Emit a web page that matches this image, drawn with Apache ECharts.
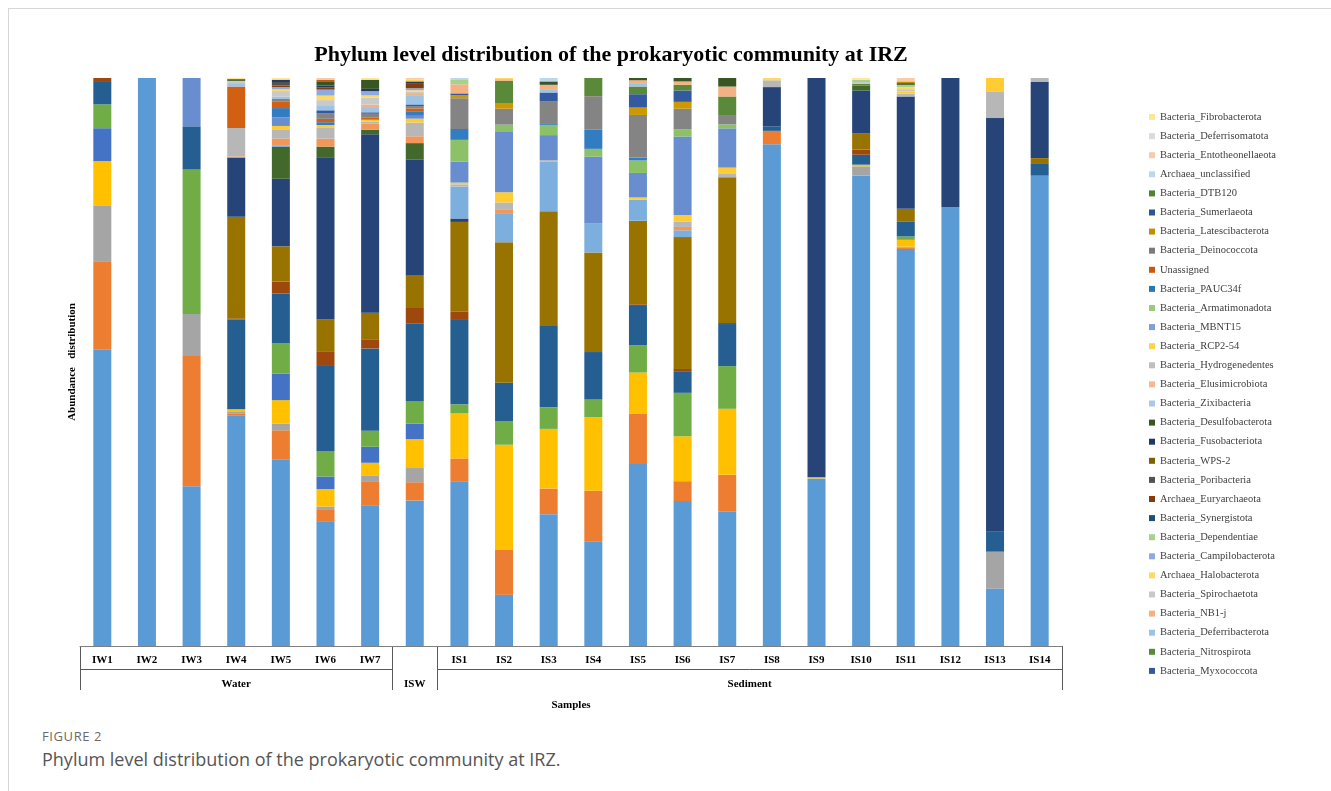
<!DOCTYPE html>
<html>
<head>
<meta charset="utf-8">
<title>Phylum level distribution</title>
<script src="https://cdn.jsdelivr.net/npm/echarts@6/dist/echarts.min.js"></script>
<style>
  html, body { margin: 0; padding: 0; background: #fff; }
  body { width: 1331px; height: 791px; position: relative; overflow: hidden; }
  .frame { position: absolute; left: 8px; top: 8px; right: 0; bottom: 0; border-top: 1px solid #d6d6d6; border-left: 1px solid #d6d6d6; }
  #chart { position: absolute; left: 0; top: 0; width: 1331px; height: 720px; }
  .fig-no { position: absolute; left: 42px; top: 727px; font: 13px 'Open Sans', sans-serif; color: #6a6a6a; letter-spacing: 0.6px; }
  .fig-cap { position: absolute; left: 42px; top: 747px; font: 18px 'Open Sans', sans-serif; color: #555; }
</style>
</head>
<body>
<div class="frame"></div>
<div id="chart"></div>
<div class="fig-no">FIGURE 2</div>
<div class="fig-cap">Phylum level distribution of the prokaryotic community at IRZ.</div>
<script>
  const samples = ['IW1', 'IW2', 'IW3', 'IW4', 'IW5', 'IW6', 'IW7', 'ISW', 'IS1', 'IS2', 'IS3', 'IS4', 'IS5', 'IS6', 'IS7', 'IS8', 'IS9', 'IS10', 'IS11', 'IS12', 'IS13', 'IS14'];

  // sample groups under the axis (first / last sample index)
  const groupLabels = ['Water', 'ISW', 'Sediment'];
  const groupFirst = [0, 7, 8];
  const groupLast = [6, 7, 21];

  // relative abundance (%), order as samples
  //                   IW1   IW2  IW3   IW4   IW5   IW6   IW7   ISW   IS1   IS2   IS3   IS4   IS5   IS6   IS7   IS8   IS9   IS10  IS11  IS12  IS13  IS14
  const proteobacteria = [52.2, 100, 28.1, 40.6, 32.9, 21.9, 24.6, 25.6, 28.8, 9.0, 23.2, 18.4, 32.0, 25.5, 23.6, 88.3, 29.5, 82.8, 69.8, 77.2, 10.1, 82.8];
  const bacteroidota = [15.6, 0, 22.9, 0.35, 5.1, 2.1, 4.1, 3.2, 4.1, 7.9, 4.5, 8.9, 8.9, 3.5, 6.5, 2.35, 0, 0, 0.2, 0, 0, 0];
  const firmicutes = [9.75, 0, 7.4, 0.35, 1.2, 0.6, 1.05, 2.5, 0, 0, 0, 0, 0, 0, 0, 0, 0, 1.6, 0.2, 0, 6.5, 0];
  const actinobacteriota = [7.9, 0, 0, 0.35, 4.1, 3.1, 2.3, 5.1, 7.9, 18.5, 10.5, 12.9, 7.2, 7.9, 11.6, 0, 0.2, 0.3, 1.2, 0, 0, 0];
  const cyanobacteria = [5.8, 0, 0, 0, 4.7, 2.2, 2.8, 2.7, 0, 0, 0, 0, 0, 0, 0, 0, 0, 0, 0, 0, 0, 0];
  const chloroflexi = [4.2, 0, 25.4, 0, 5.3, 4.5, 2.8, 3.9, 1.6, 4.1, 3.8, 3.1, 4.8, 7.65, 7.5, 0, 0, 0, 0.6, 0, 0, 0];
  const acidobacteriota = [3.95, 0, 7.6, 15.8, 8.8, 15.0, 14.4, 13.7, 14.8, 6.8, 14.3, 8.35, 6.9, 3.8, 7.4, 0.8, 0, 1.75, 2.65, 0, 3.5, 2.2];
  const verrucomicrobiota = [0.7, 0, 0, 0.2, 2.1, 2.6, 1.6, 2.75, 1.5, 0, 0, 0, 0.3, 0.4, 0.2, 0, 0, 0.9, 0, 0, 0, 0];
  const planctomycetota = [0, 0, 0, 17.9, 6.2, 5.6, 4.65, 5.8, 15.7, 24.7, 20.2, 17.5, 14.7, 23.2, 25.6, 0, 0, 2.9, 2.2, 0, 0, 0.9];
  const patescibacteria = [0, 0, 0, 10.4, 11.9, 28.6, 31.2, 20.3, 0.6, 0, 0, 0, 0, 0, 0, 6.9, 70.3, 7.5, 19.75, 22.75, 72.8, 13.4];
  const bdellovibrionota = [0, 0, 0, 0, 5.6, 1.9, 0.8, 2.9, 0, 0, 0, 0, 0, 0, 0, 0, 0, 0.9, 0, 0, 0, 0];
  const gemmatimonadota = [0, 0, 0, 0, 0.2, 0, 0, 0, 5.6, 5.0, 8.7, 5.1, 3.7, 1.2, 0, 0, 0, 0, 0, 0, 0, 0];
  const thermoplasmatota = [0, 0, 0, 0.2, 1.3, 1.4, 1.05, 1.2, 0, 0.7, 0, 0, 0, 0.6, 0, 0, 0, 0, 0, 0, 0, 0];
  const nanoarchaeota = [0, 0, 0, 5.0, 1.5, 2.0, 0.4, 2.4, 0.4, 1.3, 0.3, 0, 0, 0.9, 0.7, 1.2, 0, 0, 0.5, 0, 4.7, 0.7];
  const dadabacteria = [0, 0, 0, 0, 0.7, 0.4, 0.3, 0.7, 0.3, 1.8, 0, 0, 0.4, 1.2, 1.0, 0, 0, 0, 0.4, 0, 2.35, 0];
  const crenarchaeota = [0, 0, 8.5, 0, 1.5, 0, 0, 0.5, 3.7, 10.6, 4.4, 11.75, 4.3, 13.8, 6.9, 0, 0, 0, 0, 0, 0, 0];
  const marinimicrobia = [0, 0, 0, 0, 0, 0, 0, 0, 3.8, 1.3, 1.8, 1.35, 2.2, 1.3, 0.7, 0, 0, 0, 0, 0, 0, 0];
  const sar324 = [0, 0, 0, 0, 1.65, 0.5, 0, 0.7, 1.9, 0, 0.3, 3.35, 0.5, 0, 0, 0, 0, 0, 0, 0, 0, 0];
  const nitrospinota = [0, 0, 0, 7.3, 1.2, 0.6, 0.35, 0.6, 0, 0, 0, 0, 0, 0, 0, 0, 0, 0, 0, 0, 0, 0];
  const calditrichota = [0, 0, 0, 0, 0.4, 1.0, 0.7, 0.4, 5.4, 2.8, 3.8, 5.9, 7.5, 3.6, 1.5, 0, 0, 0, 0, 0, 0, 0];
  const sva0485 = [0, 0, 0, 0, 0, 0, 0, 0, 0.5, 1.0, 0, 0, 1.3, 1.2, 0, 0, 0, 0, 0, 0, 0, 0];
  const myxococcota = [0, 0, 0, 0, 0, 0.5, 0.25, 0.3, 0.35, 0, 1.6, 0, 2.35, 2.0, 0, 0, 0, 0, 0, 0, 0, 0];
  const nitrospirota = [0, 0, 0, 0, 0, 0, 0, 0, 0, 3.9, 0, 3.2, 1.35, 1.0, 3.4, 0, 0, 0.3, 0, 0, 0, 0];
  const deferribacterota = [0, 0, 0, 0.6, 0.4, 0.9, 0.75, 1.5, 0, 0, 0.45, 0, 0.6, 0, 0, 0, 0, 0, 0, 0, 0, 0];
  const nb1j = [0, 0, 0, 0, 0, 0, 0.6, 0.5, 1.6, 0.3, 0.9, 0, 0.5, 0.6, 1.75, 0, 0, 0, 0, 0, 0, 0];
  const spirochaetota = [0, 0, 0, 0.4, 1.0, 0.9, 1.2, 0.3, 0, 0, 0, 0, 0, 0, 0, 0, 0, 0.3, 0.4, 0, 0, 0];
  const halobacterota = [0, 0, 0, 0, 0.3, 0.8, 0.4, 0.2, 0, 0.2, 0, 0, 0, 0, 0, 0.4, 0, 0, 0.35, 0, 0, 0];
  const campilobacterota = [0, 0, 0, 0, 0.4, 1.05, 0.75, 0.35, 0, 0, 0, 0, 0, 0, 0, 0, 0, 0, 0, 0, 0, 0];
  const dependentiae = [0, 0, 0, 0, 0, 0, 0, 0, 0.75, 0, 0, 0, 0, 0, 0, 0, 0, 0.4, 0.4, 0, 0, 0];
  const euryarchaeota = [0, 0, 0, 0, 0.3, 0.4, 0, 0.9, 0, 0, 0, 0, 0, 0, 0, 0, 0, 0, 0, 0, 0, 0];
  const poribacteria = [0, 0, 0, 0, 0.6, 0, 0, 0, 0, 0, 0, 0, 0, 0, 0, 0, 0, 0, 0, 0, 0, 0];
  const fusobacteriota = [0, 0, 0, 0, 0.4, 0.3, 0.4, 0.3, 0, 0, 0, 0, 0, 0, 0, 0, 0, 0, 0, 0, 0, 0];
  const desulfobacterota = [0, 0, 0, 0.3, 0, 0.65, 1.6, 0, 0, 0, 0.6, 0, 0.4, 0.6, 1.5, 0, 0, 0, 0.3, 0, 0, 0];
  const rcp254 = [0, 0, 0, 0, 0, 0, 0, 0.3, 0, 0, 0, 0, 0, 0, 0, 0, 0, 0, 0, 0, 0, 0];
  const unassigned = [0, 0, 0, 0, 0, 0.4, 0, 0, 0, 0, 0, 0, 0, 0, 0, 0, 0, 0, 0, 0, 0, 0];
  const latescibacterota = [0, 0, 0, 0, 0, 0, 0, 0, 0, 0, 0, 0, 0, 0, 0, 0, 0, 0, 0.3, 0, 0, 0];
  const archaeaUnclassified = [0, 0, 0, 0, 0, 0, 0, 0, 0.35, 0, 0.6, 0, 0, 0, 0, 0, 0, 0, 0, 0, 0, 0];
  const entotheonellaeota = [0, 0, 0, 0, 0, 0.3, 0, 0.3, 0, 0, 0, 0, 0, 0, 0, 0, 0, 0, 0.6, 0, 0, 0];
  const fibrobacterota = [0, 0, 0, 0.2, 0.3, 0, 0.3, 0, 0, 0, 0, 0, 0, 0, 0, 0, 0, 0.3, 0, 0, 0, 0];
  // traces too small to see in any bar
  const trace = [0, 0, 0, 0, 0, 0, 0, 0, 0, 0, 0, 0, 0, 0, 0, 0, 0, 0, 0, 0, 0, 0];

  // stack order, bottom -> top
  const phyla = [
    'Bacteria_Proteobacteria', 'Bacteria_Bacteroidota', 'Bacteria_Firmicutes', 'Bacteria_Actinobacteriota',
    'Bacteria_Cyanobacteria', 'Bacteria_Chloroflexi', 'Bacteria_Acidobacteriota', 'Bacteria_Verrucomicrobiota',
    'Bacteria_Planctomycetota', 'Bacteria_Patescibacteria', 'Bacteria_Bdellovibrionota', 'Bacteria_Gemmatimonadota',
    'Archaea_Thermoplasmatota', 'Archaea_Nanoarchaeota', 'Bacteria_Dadabacteria', 'Archaea_Crenarchaeota',
    'Bacteria_Marinimicrobia', 'Bacteria_SAR324_clade', 'Bacteria_Nitrospinota', 'Bacteria_Calditrichota',
    'Bacteria_Sva0485', 'Bacteria_Myxococcota', 'Bacteria_Nitrospirota', 'Bacteria_Deferribacterota',
    'Bacteria_NB1-j', 'Bacteria_Spirochaetota', 'Archaea_Halobacterota', 'Bacteria_Campilobacterota',
    'Bacteria_Dependentiae', 'Bacteria_Synergistota', 'Archaea_Euryarchaeota', 'Bacteria_Poribacteria',
    'Bacteria_WPS-2', 'Bacteria_Fusobacteriota', 'Bacteria_Desulfobacterota', 'Bacteria_Zixibacteria',
    'Bacteria_Elusimicrobiota', 'Bacteria_Hydrogenedentes', 'Bacteria_RCP2-54', 'Bacteria_MBNT15',
    'Bacteria_Armatimonadota', 'Bacteria_PAUC34f', 'Unassigned', 'Bacteria_Deinococcota',
    'Bacteria_Latescibacterota', 'Bacteria_Sumerlaeota', 'Bacteria_DTB120', 'Archaea_unclassified',
    'Bacteria_Entotheonellaeota', 'Bacteria_Deferrisomatota', 'Bacteria_Fibrobacterota'
  ];
  const rows = [
    proteobacteria, bacteroidota, firmicutes, actinobacteriota,
    cyanobacteria, chloroflexi, acidobacteriota, verrucomicrobiota,
    planctomycetota, patescibacteria, bdellovibrionota, gemmatimonadota,
    thermoplasmatota, nanoarchaeota, dadabacteria, crenarchaeota,
    marinimicrobia, sar324, nitrospinota, calditrichota,
    sva0485, myxococcota, nitrospirota, deferribacterota,
    nb1j, spirochaetota, halobacterota, campilobacterota,
    dependentiae, trace, euryarchaeota, poribacteria,
    trace, fusobacteriota, desulfobacterota, trace,
    trace, trace, rcp254, trace,
    trace, trace, unassigned, trace,
    latescibacterota, trace, trace, archaeaUnclassified,
    entotheonellaeota, trace, fibrobacterota
  ];
  const barColors = [
    '#5B9BD5', '#ED7D31', '#A5A5A5', '#FFC000', '#4472C4', '#70AD47', '#255E91', '#9E480E',
    '#997300', '#264478', '#43682B', '#7CAFDD', '#F1975A', '#B7B7B7', '#FFCD33', '#698ED0',
    '#8CC168', '#327DC2', '#D26012', '#848484', '#CC9A00', '#335AA1', '#5A8A39', '#9DC3E6',
    '#F4B183', '#C9C9C9', '#FFD966', '#8FAADC', '#A9D18E', '#1F4E79', '#843C0C', '#525252',
    '#7F6000', '#203864', '#375623', '#A9C8EA', '#F6B893', '#BFBFBF', '#FFD24D', '#7F9FD8',
    '#9ACB7B', '#2E75B6', '#C55A11', '#7B7B7B', '#BF9000', '#2F5597', '#548235', '#BDD7EE',
    '#F8CBAD', '#DBDBDB', '#FFE699'
  ];

  // only the part of the legend that is visible in the figure (top -> bottom)
  const legendNames = [
    'Bacteria_Fibrobacterota', 'Bacteria_Deferrisomatota', 'Bacteria_Entotheonellaeota', 'Archaea_unclassified',
    'Bacteria_DTB120', 'Bacteria_Sumerlaeota', 'Bacteria_Latescibacterota', 'Bacteria_Deinococcota',
    'Unassigned', 'Bacteria_PAUC34f', 'Bacteria_Armatimonadota', 'Bacteria_MBNT15', 'Bacteria_RCP2-54',
    'Bacteria_Hydrogenedentes', 'Bacteria_Elusimicrobiota', 'Bacteria_Zixibacteria', 'Bacteria_Desulfobacterota',
    'Bacteria_Fusobacteriota', 'Bacteria_WPS-2', 'Bacteria_Poribacteria', 'Archaea_Euryarchaeota',
    'Bacteria_Synergistota', 'Bacteria_Dependentiae', 'Bacteria_Campilobacterota', 'Archaea_Halobacterota',
    'Bacteria_Spirochaetota', 'Bacteria_NB1-j', 'Bacteria_Deferribacterota', 'Bacteria_Nitrospirota',
    'Bacteria_Myxococcota'
  ];

  const serif = "'Liberation Serif', 'Times New Roman', serif";

  // 100% stacked: scale each sample to its total
  const totals = samples.map((s, j) => rows.reduce((sum, r) => sum + r[j], 0));
  const series = phyla.map((name, i) => ({
    name: name,
    type: 'bar',
    stack: 'total',
    barWidth: 18,
    itemStyle: { color: barColors[i] },
    data: rows[i].map((v, j) => v / totals[j] * 100)
  }));

  const chart = echarts.init(document.getElementById('chart'));
  chart.setOption({
    animation: false,
    title: {
      text: 'Phylum level distribution of the prokaryotic community at IRZ',
      left: 606,
      top: 39,
      textAlign: 'center',
      textStyle: { fontFamily: serif, fontWeight: 'bold', fontSize: 22, color: '#000' }
    },
    legend: {
      orient: 'vertical',
      left: 1144,
      top: 106,
      icon: 'rect',
      itemWidth: 6,
      itemHeight: 6,
      itemGap: 7.1,
      selectedMode: false,
      data: legendNames,
      textStyle: { fontFamily: serif, fontSize: 10.5, color: '#404040', lineHeight: 12 }
    },
    grid: { left: 80, right: 269, top: 78, bottom: 74 },
    xAxis: {
      type: 'category',
      data: samples,
      axisLine: { lineStyle: { color: '#7f7f7f' } },
      axisTick: { show: false },
      axisLabel: {
        fontFamily: serif, fontWeight: 'bold', fontSize: 11, color: '#000', margin: 9,
        // ISW is written only on the group row
        formatter: v => (v === 'ISW' ? '' : v)
      },
      name: 'Samples',
      nameLocation: 'middle',
      nameGap: 54,
      nameTextStyle: { fontFamily: serif, fontWeight: 'bold', fontSize: 11, color: '#000' }
    },
    yAxis: {
      type: 'value',
      min: 0,
      max: 100,
      axisLine: { show: false },
      axisTick: { show: false },
      axisLabel: { show: false },
      splitLine: { show: false },
      name: 'Abundance   distribution',
      nameLocation: 'middle',
      nameGap: 2,
      nameTextStyle: { fontFamily: serif, fontWeight: 'bold', fontSize: 11, color: '#000' }
    },
    series: series
  });

  // two-level category labels (Water / ISW / Sediment) under the axis
  function drawGroups() {
    const px = i => chart.convertToPixel({ xAxisIndex: 0 }, samples[i]);
    const band = px(1) - px(0);
    const edge = i => px(i) - band / 2;
    const axisY = chart.convertToPixel({ yAxisIndex: 0 }, 0);
    const lineY = axisY + 23;
    const labelY = axisY + 38;
    const endY = axisY + 44;
    const lineStyle = { stroke: '#595959', lineWidth: 1 };
    const elements = [];
    const cuts = [edge(0), edge(7), edge(8), edge(21) + band];
    cuts.forEach(x => {
      x = Math.round(x) + 0.5;
      elements.push({ type: 'line', shape: { x1: x, y1: axisY, x2: x, y2: endY }, style: lineStyle });
    });
    groupLabels.forEach((label, g) => {
      const x1 = edge(groupFirst[g]);
      const x2 = edge(groupLast[g]) + band;
      if (groupFirst[g] !== groupLast[g]) {
        elements.push({ type: 'line', shape: { x1: x1, y1: lineY + 0.5, x2: x2, y2: lineY + 0.5 }, style: lineStyle });
      }
      elements.push({
        type: 'text',
        style: {
          text: label, x: (x1 + x2) / 2, y: labelY,
          align: 'center', verticalAlign: 'middle',
          font: "bold 11px 'Liberation Serif', serif", fill: '#000'
        }
      });
    });
    chart.setOption({ graphic: elements });
  }
  drawGroups();
</script>
</body>
</html>
